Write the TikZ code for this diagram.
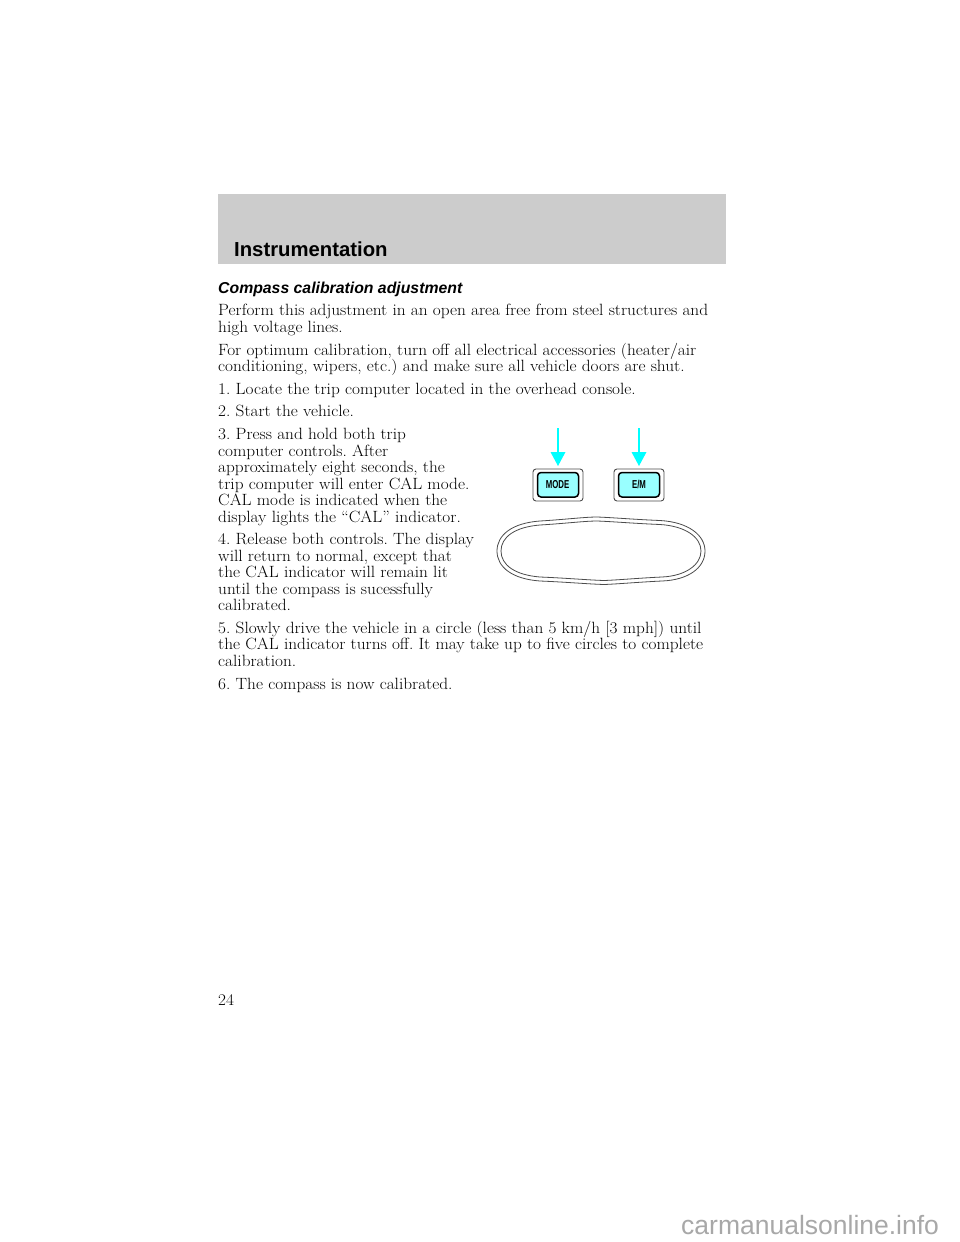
\documentclass[tikz,border=0pt]{standalone}
\usepackage{fontspec}
\setsansfont{Liberation Sans}
\definecolor{band}{RGB}{204,204,204}
\definecolor{cyanarrow}{RGB}{0,255,255}
\definecolor{btn}{RGB}{153,255,255}
\definecolor{wmark}{RGB}{168,168,168}
\tikzset{
  x=1pt,y=-1pt,
  body/.style={anchor=base west,inner sep=0pt,xscale=1.06,font=\frenchspacing\fontsize{16.3}{16}\selectfont},
  outerbtn/.style={draw=black!70,line width=.9pt,rounded corners=3pt,fill=white},
  innerbtn/.style={draw=black,line width=1.5pt,rounded corners=3.5pt,fill=btn},
  pressarrow/.style={draw=cyanarrow,line width=2.6pt},
  arrowhead/.style={fill=cyanarrow,draw=none},
  btnlabel/.style={inner sep=0pt,xscale=.68,font=\sffamily\bfseries\fontsize{11.5}{12}\selectfont},
  mirror/.style={draw=black!70,line width=.8pt},
}
\begin{document}
\begin{tikzpicture}
\useasboundingbox (0,0) rectangle (960,1242);
\fill[white] (0,0) rectangle (960,1242);
\fill[band] (218,194) rectangle (726,264);
\node[anchor=base west,inner sep=0pt,font=\sffamily\bfseries\fontsize{20.3}{24}\selectfont] (head) at (234,256) {Instrumentation};
\node[anchor=base west,inner sep=0pt,font=\sffamily\bfseries\itshape\fontsize{15.8}{19}\selectfont] (title) at (218,293) {Compass calibration adjustment};
\node[body] (l1) at (218,315) {Perform this adjustment in an open area free from steel structures and};
\node[body] (l2) at (218,332) {high voltage lines.};
\node[body] (l3) at (218,355) {For optimum calibration, turn off all electrical accessories (heater/air};
\node[body] (l4) at (218,371) {conditioning, wipers, etc.) and make sure all vehicle doors are shut.};
\node[body] (l5) at (218,394) {1. Locate the trip computer located in the overhead console.};
\node[body] (l6) at (218,416) {2. Start the vehicle.};
\node[body] (l7) at (218,439) {3. Press and hold both trip};
\node[body] (l8) at (218,456) {computer controls. After};
\node[body] (l9) at (218,472) {approximately eight seconds, the};
\node[body] (l10) at (218,489) {trip computer will enter CAL mode.};
\node[body] (l11) at (218,505) {CAL mode is indicated when the};
\node[body] (l12) at (218,522) {display lights the “CAL” indicator.};
\node[body] (l13) at (218,544) {4. Release both controls. The display};
\node[body] (l14) at (218,561) {will return to normal, except that};
\node[body] (l15) at (218,577) {the CAL indicator will remain lit};
\node[body] (l16) at (218,594) {until the compass is sucessfully};
\node[body] (l17) at (218,610) {calibrated.};
\node[body] (l18) at (218,633) {5. Slowly drive the vehicle in a circle (less than 5 km/h [3 mph]) until};
\node[body] (l19) at (218,649) {the CAL indicator turns off. It may take up to five circles to complete};
\node[body] (l20) at (218,666) {calibration.};
\node[body] (l21) at (218,689) {6. The compass is now calibrated.};
\node[body] (pg) at (218,1005) {24};
\node[anchor=base west,inner sep=0pt,text=wmark,font=\sffamily\fontsize{26.5}{28}\selectfont] (wm) at (681,1234) {carmanualsonline.info};
% buttons
\draw[outerbtn] (533,469) rectangle (583,501);
\draw[innerbtn] (537.5,472.5) rectangle (578.5,497);
\node[btnlabel] (mode) at (557.5,484.5) {MODE};
\draw[outerbtn] (614,469) rectangle (664,501);
\draw[innerbtn] (618.5,472.5) rectangle (659.5,497);
\node[btnlabel] (em) at (639,484.5) {E/M};
% arrows
\draw[pressarrow] (558,428) -- (558,452);
\fill[arrowhead] (550.5,452) -- (565.5,452) -- (558,466) -- cycle;
\draw[pressarrow] (639,428) -- (639,452);
\fill[arrowhead] (631.5,452) -- (646.5,452) -- (639,466) -- cycle;
% mirror
\draw[mirror] (540,521) .. controls (565,519.5) and (585,517) .. (597,517) .. controls (612,517.5) and (635,519.5) .. (660,520.5) .. controls (688,522) and (705,535) .. (705,551) .. controls (705,568) and (688,580) .. (662,581) .. controls (640,582) and (618,584) .. (604,584.5) .. controls (588,584) and (565,582) .. (540,581) .. controls (512,579) and (497,567) .. (497,551) .. controls (497,535) and (512,523) .. (540,521) -- cycle;
\draw[mirror] (540,525) .. controls (565,523.5) and (585,521) .. (597,521) .. controls (612,521.5) and (635,523.5) .. (660,524.5) .. controls (685,526) and (701,537) .. (701,551) .. controls (701,565) and (685,576) .. (662,577) .. controls (640,578) and (618,580) .. (604,580.5) .. controls (588,580) and (565,578) .. (540,577) .. controls (515,575) and (501,565) .. (501,551) .. controls (501,537) and (515,527) .. (540,525) -- cycle;
\end{tikzpicture}
\end{document}
